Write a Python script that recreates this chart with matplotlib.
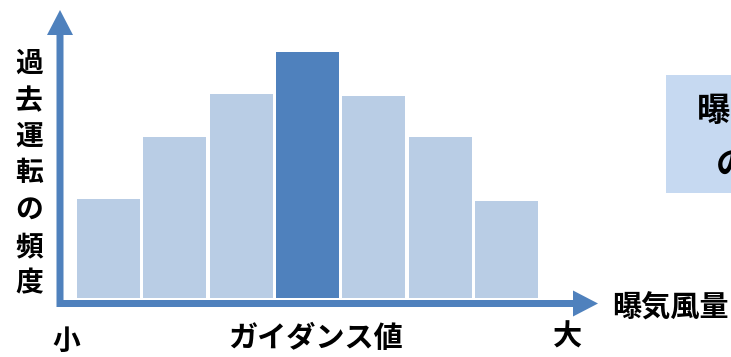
import matplotlib
matplotlib.use("Agg")
import matplotlib.pyplot as plt
from matplotlib.patches import FancyArrowPatch, Rectangle

plt.rcParams['font.family'] = ['Noto Sans CJK JP', 'DejaVu Sans']

# データ（過去運転の頻度、相対値）
bins = [0, 1, 2, 3, 4, 5, 6]
freq = [99, 161, 204, 246, 202, 161, 97]
guide_idx = 3
ylabel_text = "過去運転の頻度"

light = "#B9CDE5"
dark = "#4F81BD"

W, H = 731, 357
fig = plt.figure(figsize=(W / 100, H / 100), dpi=100)

def fx(p):
    return p / W

def fy(p):
    return 1 - p / H

# 棒グラフ用の軸
ax = fig.add_axes([fx(57), fy(306), fx(541), 296 / H])
colors = [dark if i == guide_idx else light for i in bins]
ax.bar(bins, freq, width=0.95, color=colors, linewidth=0)
ax.set_xlim(-0.777, 7.383)
ax.set_ylim(-8, 288)
ax.axis('off')

# 矢印（軸）
style = "simple,head_length=0.5,head_width=0.52,tail_width=0.14"
fig.patches.append(FancyArrowPatch((fx(60), fy(307)), (fx(60), fy(10)),
                                   transform=fig.transFigure, arrowstyle=style,
                                   mutation_scale=36, color=dark, lw=0,
                                   shrinkA=0, shrinkB=0))
fig.patches.append(FancyArrowPatch((fx(57), fy(303.5)), (fx(598), fy(303.5)),
                                   transform=fig.transFigure, arrowstyle=style,
                                   mutation_scale=36, color=dark, lw=0,
                                   shrinkA=0, shrinkB=0))

fs = 21

# 縦軸ラベル（縦書き）
ys = [64, 101, 137, 173, 210, 247, 283]
for ch, y in zip(ylabel_text, ys):
    fig.text(fx(29), fy(y), ch, ha='center', va='center', fontsize=fs - 1, fontweight='bold')

fig.text(fx(670), fy(308), "曝気風量", ha='center', va='center', fontsize=fs, fontweight='bold')
fig.text(fx(66), fy(342), "小", ha='center', va='center', fontsize=fs - 1, fontweight='bold')
fig.text(fx(567), fy(337), "大", ha='center', va='center', fontsize=fs, fontweight='bold')
fig.text(fx(316), fy(338), "ガイダンス値", ha='center', va='center', fontsize=fs, fontweight='bold')

# 右側の吹き出しボックス（参照画像でも右端で切れている）
fig.patches.append(Rectangle((fx(666), fy(193)), fx(80), 118 / H,
                             transform=fig.transFigure, color="#C6D9F1", lw=0))
fig.text(fx(697), fy(111), "曝", ha='left', va='center', fontsize=24, fontweight='bold')
fig.text(fx(716), fy(166), "の", ha='left', va='center', fontsize=24, fontweight='bold',
         style='italic')

fig.savefig("out.png", dpi=100)
